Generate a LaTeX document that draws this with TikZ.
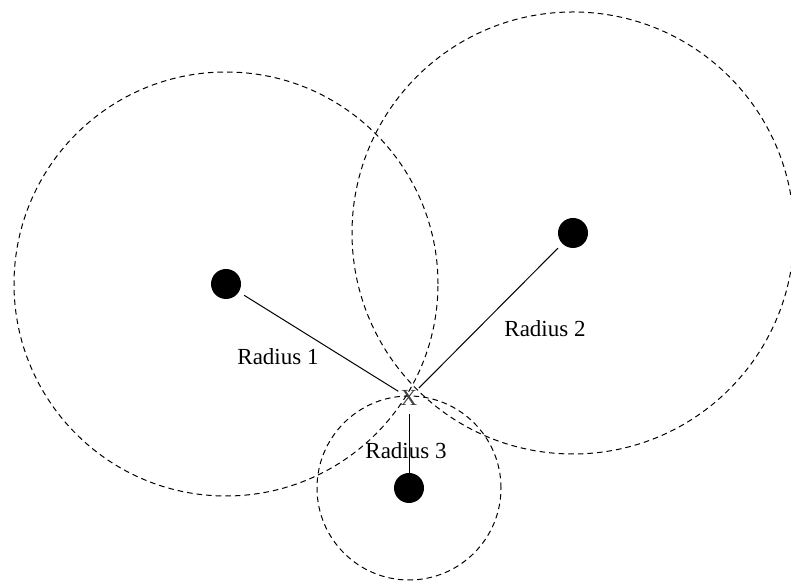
\documentclass[tikz,border=0pt]{standalone}
\usepackage{fontspec}
\setmainfont{Liberation Serif}
\usepackage{tikz}
\usetikzlibrary{positioning}

\begin{document}
\begin{tikzpicture}[x=0.5pt, y=0.5pt,
		dot/.style={circle, fill=black, inner sep=0pt, minimum size=15pt},
		ring/.style={line width=0.5pt, dash pattern=on 2.8pt off 2pt},
		lbl/.style={font=\fontsize{11.5}{13}\selectfont},
		rad/.style={line width=0.5pt}]
	\useasboundingbox (0,0) rectangle (791,581);

	% Sender
	\node[dot] (d1) at (226,297) {};
	\node[dot] (d2) at (573,348) {};
	\node[dot] (d3) at (409,93) {};

	% Empfangsbereiche
	\draw[ring] (d1.center) circle (212);
	\draw[ring] (d2.center) circle (221);
	\draw[ring] (d3.center) circle (92);

	% Position
	\node[lbl, text=black!75, inner sep=1pt] (pos) at (409,183) {X};
	\draw[rad, shorten <=3pt] (d1) -- (pos);
	\draw[rad, shorten <=3pt] (d2) -- (pos);
	\draw[rad, shorten <=3pt] (pos) -- (d3);

	\node[lbl] (r1) at (278,224) {Radius 1};
	\node[lbl] (r2) at (545,252) {Radius 2};
	\node[lbl] (r3) at (406,130) {Radius 3};
\end{tikzpicture}
\end{document}
